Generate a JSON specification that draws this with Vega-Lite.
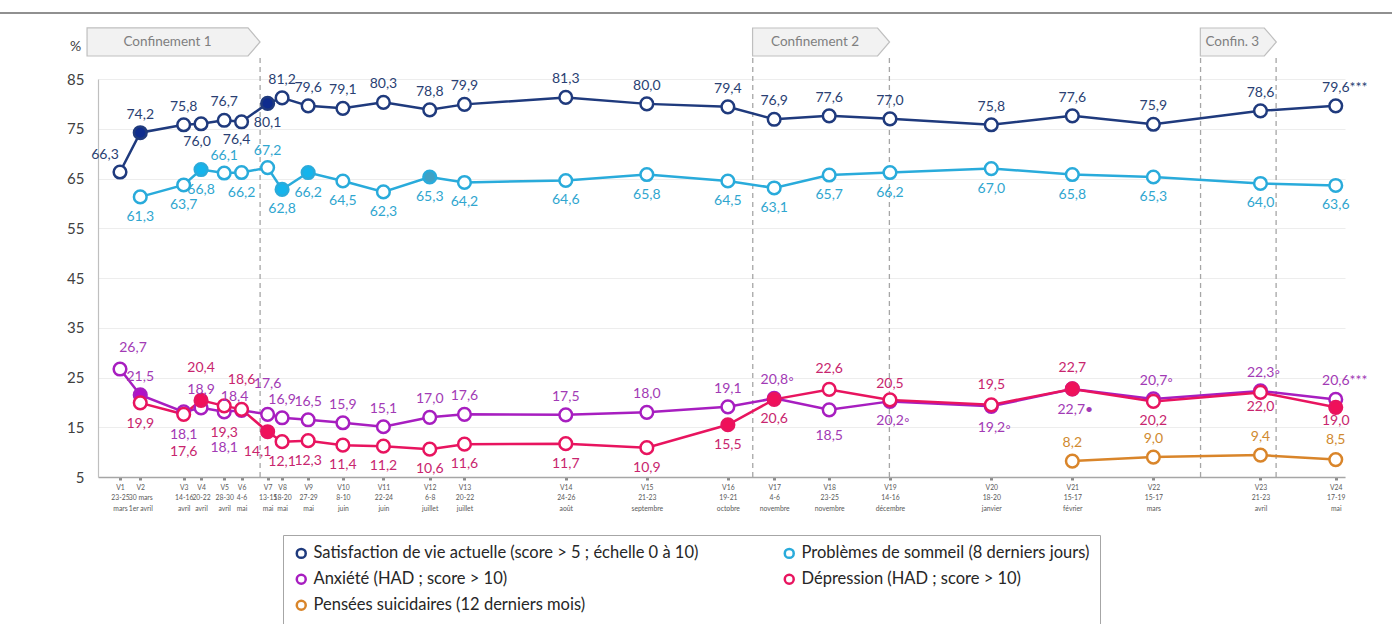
{
  "$schema": "https://vega.github.io/schema/vega-lite/v6.json",
  "width": 1247,
  "height": 398,
  "autosize": {"type": "none"},
  "padding": {"left": 98, "top": 79, "right": 47, "bottom": 147},
  "background": "white",
  "config": {
    "view": {"stroke": null},
    "font": "Lato",
    "text": {"font": "Lato"}
  },
  "datasets": {
    "obs": [
      {"w":"V1","d":0,"s":"sat","v":66.3},
      {"w":"V2","d":7,"s":"sat","v":74.2,"f":1},
      {"w":"V3","d":22,"s":"sat","v":75.8},
      {"w":"V4","d":28,"s":"sat","v":76.0},
      {"w":"V5","d":36,"s":"sat","v":76.7},
      {"w":"V6","d":42,"s":"sat","v":76.4},
      {"w":"V7","d":51,"s":"sat","v":80.1,"f":1},
      {"w":"V8","d":56,"s":"sat","v":81.2},
      {"w":"V9","d":65,"s":"sat","v":79.6},
      {"w":"V10","d":77,"s":"sat","v":79.1},
      {"w":"V11","d":91,"s":"sat","v":80.3},
      {"w":"V12","d":107,"s":"sat","v":78.8},
      {"w":"V13","d":119,"s":"sat","v":79.9},
      {"w":"V14","d":154,"s":"sat","v":81.3},
      {"w":"V15","d":182,"s":"sat","v":80.0},
      {"w":"V16","d":210,"s":"sat","v":79.4},
      {"w":"V17","d":226,"s":"sat","v":76.9},
      {"w":"V18","d":245,"s":"sat","v":77.6},
      {"w":"V19","d":266,"s":"sat","v":77.0},
      {"w":"V20","d":301,"s":"sat","v":75.8},
      {"w":"V21","d":329,"s":"sat","v":77.6},
      {"w":"V22","d":357,"s":"sat","v":75.9},
      {"w":"V23","d":394,"s":"sat","v":78.6},
      {"w":"V24","d":420,"s":"sat","v":79.6,"n":"***"},
      {"w":"V2","d":7,"s":"slp","v":61.3},
      {"w":"V3","d":22,"s":"slp","v":63.7},
      {"w":"V4","d":28,"s":"slp","v":66.8,"f":1},
      {"w":"V5","d":36,"s":"slp","v":66.1},
      {"w":"V6","d":42,"s":"slp","v":66.2},
      {"w":"V7","d":51,"s":"slp","v":67.2},
      {"w":"V8","d":56,"s":"slp","v":62.8,"f":1},
      {"w":"V9","d":65,"s":"slp","v":66.2,"f":1},
      {"w":"V10","d":77,"s":"slp","v":64.5},
      {"w":"V11","d":91,"s":"slp","v":62.3},
      {"w":"V12","d":107,"s":"slp","v":65.3,"f":2},
      {"w":"V13","d":119,"s":"slp","v":64.2},
      {"w":"V14","d":154,"s":"slp","v":64.6},
      {"w":"V15","d":182,"s":"slp","v":65.8},
      {"w":"V16","d":210,"s":"slp","v":64.5},
      {"w":"V17","d":226,"s":"slp","v":63.1},
      {"w":"V18","d":245,"s":"slp","v":65.7},
      {"w":"V19","d":266,"s":"slp","v":66.2},
      {"w":"V20","d":301,"s":"slp","v":67.0},
      {"w":"V21","d":329,"s":"slp","v":65.8},
      {"w":"V22","d":357,"s":"slp","v":65.3},
      {"w":"V23","d":394,"s":"slp","v":64.0},
      {"w":"V24","d":420,"s":"slp","v":63.6},
      {"w":"V1","d":0,"s":"anx","v":26.7},
      {"w":"V2","d":7,"s":"anx","v":21.5,"f":1},
      {"w":"V3","d":22,"s":"anx","v":18.1},
      {"w":"V4","d":28,"s":"anx","v":18.9},
      {"w":"V5","d":36,"s":"anx","v":18.1},
      {"w":"V6","d":42,"s":"anx","v":18.4},
      {"w":"V7","d":51,"s":"anx","v":17.6},
      {"w":"V8","d":56,"s":"anx","v":16.9},
      {"w":"V9","d":65,"s":"anx","v":16.5},
      {"w":"V10","d":77,"s":"anx","v":15.9},
      {"w":"V11","d":91,"s":"anx","v":15.1},
      {"w":"V12","d":107,"s":"anx","v":17.0},
      {"w":"V13","d":119,"s":"anx","v":17.6},
      {"w":"V14","d":154,"s":"anx","v":17.5},
      {"w":"V15","d":182,"s":"anx","v":18.0},
      {"w":"V16","d":210,"s":"anx","v":19.1},
      {"w":"V17","d":226,"s":"anx","v":20.8,"n":"◦"},
      {"w":"V18","d":245,"s":"anx","v":18.5},
      {"w":"V19","d":266,"s":"anx","v":20.2,"n":"◦"},
      {"w":"V20","d":301,"s":"anx","v":19.2,"n":"◦"},
      {"w":"V21","d":329,"s":"anx","v":22.7,"n":"•"},
      {"w":"V22","d":357,"s":"anx","v":20.7,"n":"◦"},
      {"w":"V23","d":394,"s":"anx","v":22.3,"n":"◦"},
      {"w":"V24","d":420,"s":"anx","v":20.6,"n":"***"},
      {"w":"V2","d":7,"s":"dep","v":19.9},
      {"w":"V3","d":22,"s":"dep","v":17.6},
      {"w":"V4","d":28,"s":"dep","v":20.4,"f":1},
      {"w":"V5","d":36,"s":"dep","v":19.3},
      {"w":"V6","d":42,"s":"dep","v":18.6},
      {"w":"V7","d":51,"s":"dep","v":14.1,"f":1},
      {"w":"V8","d":56,"s":"dep","v":12.1},
      {"w":"V9","d":65,"s":"dep","v":12.3},
      {"w":"V10","d":77,"s":"dep","v":11.4},
      {"w":"V11","d":91,"s":"dep","v":11.2},
      {"w":"V12","d":107,"s":"dep","v":10.6},
      {"w":"V13","d":119,"s":"dep","v":11.6},
      {"w":"V14","d":154,"s":"dep","v":11.7},
      {"w":"V15","d":182,"s":"dep","v":10.9},
      {"w":"V16","d":210,"s":"dep","v":15.5,"f":1},
      {"w":"V17","d":226,"s":"dep","v":20.6,"f":1},
      {"w":"V18","d":245,"s":"dep","v":22.6},
      {"w":"V19","d":266,"s":"dep","v":20.5},
      {"w":"V20","d":301,"s":"dep","v":19.5},
      {"w":"V21","d":329,"s":"dep","v":22.7,"f":1},
      {"w":"V22","d":357,"s":"dep","v":20.2},
      {"w":"V23","d":394,"s":"dep","v":22.0},
      {"w":"V24","d":420,"s":"dep","v":19.0,"f":1},
      {"w":"V21","d":329,"s":"sui","v":8.2},
      {"w":"V22","d":357,"s":"sui","v":9.0},
      {"w":"V23","d":394,"s":"sui","v":9.4},
      {"w":"V24","d":420,"s":"sui","v":8.5}
    ],
    "periods": [
      {"label":"Confinement 1","start":-11.4,"end":48.4},
      {"label":"Confinement 2","start":218.6,"end":265.8},
      {"label":"Confin. 3","start":373.3,"end":399.4}
    ],
    "frame": [{"x1": -41.5, "x2": 439.5, "y": 98.27}]
  },
  "layer": [
    {
      "data": {"name": "frame"},
      "mark": {"type": "rule", "stroke": "#222222", "strokeWidth": 1.2},
      "encoding": {
        "x": {"field": "x1", "type": "quantitative"},
        "x2": {"field": "x2"},
        "y": {"field": "y", "type": "quantitative"}
      }
    },
    {
      "data": {"name": "periods"},
      "mark": {"type": "rule", "stroke": "#A6A6A6", "strokeWidth": 1.3, "strokeDash": [5, 4]},
      "encoding": {
        "x": {"field": "end", "type": "quantitative"},
        "y": {"datum": 5, "type": "quantitative"},
        "y2": {"datum": 89.6}
      }
    },
    {
      "data": {"name": "periods"},
      "transform": [{"filter": "datum.start > 0"}],
      "mark": {"type": "rule", "stroke": "#A6A6A6", "strokeWidth": 1.3, "strokeDash": [5, 4]},
      "encoding": {
        "x": {"field": "start", "type": "quantitative"},
        "y": {"datum": 5, "type": "quantitative"},
        "y2": {"datum": 89.6}
      }
    },
    {
      "data": {"name": "periods"},
      "transform": [{"filter": "datum.label == 'Confinement 1'"}, {"calculate": "(datum.start + datum.end) / 2", "as": "cx"}],
      "mark": {"type": "point", "filled": true, "fill": "#F2F2F2", "stroke": "#BFBFBF", "strokeWidth": 1.2, "opacity": 1, "size": 29929,
        "shape": "M-1,-0.162L0.861,-0.162L1,0L0.861,0.162L-1,0.162Z"},
      "encoding": {
        "x": {"field": "cx", "type": "quantitative"},
        "y": {"datum": 92.44, "type": "quantitative"}
      }
    },
    {
      "data": {"name": "periods"},
      "transform": [{"filter": "datum.label == 'Confinement 2'"}, {"calculate": "(datum.start + datum.end) / 2", "as": "cx"}],
      "mark": {"type": "point", "filled": true, "fill": "#F2F2F2", "stroke": "#BFBFBF", "strokeWidth": 1.2, "opacity": 1, "size": 18769,
        "shape": "M-1,-0.2044L0.8248,-0.2044L1,0L0.8248,0.2044L-1,0.2044Z"},
      "encoding": {
        "x": {"field": "cx", "type": "quantitative"},
        "y": {"datum": 92.44, "type": "quantitative"}
      }
    },
    {
      "data": {"name": "periods"},
      "transform": [{"filter": "datum.label == 'Confin. 3'"}, {"calculate": "(datum.start + datum.end) / 2", "as": "cx"}],
      "mark": {"type": "point", "filled": true, "fill": "#F2F2F2", "stroke": "#BFBFBF", "strokeWidth": 1.2, "opacity": 1, "size": 5776,
        "shape": "M-1,-0.3684L0.684,-0.3684L1,0L0.684,0.3684L-1,0.3684Z"},
      "encoding": {
        "x": {"field": "cx", "type": "quantitative"},
        "y": {"datum": 92.44, "type": "quantitative"}
      }
    },
    {
      "data": {"name": "periods"},
      "transform": [{"calculate": "(datum.start + datum.end) / 2", "as": "cx"}],
      "mark": {"type": "text", "dx": -6, "fontSize": 13.5, "fill": "#7F7F7F", "baseline": "middle", "align": "center"},
      "encoding": {
        "x": {"field": "cx", "type": "quantitative"},
        "y": {"datum": 92.44, "type": "quantitative"},
        "text": {"field": "label"}
      }
    },
    {
      "data": {"name": "obs"},
      "mark": {"type": "line", "strokeWidth": 2.5},
      "encoding": {
        "x": {
          "field": "d", "type": "quantitative",
          "scale": {"domain": [-7.6, 423.2], "nice": false, "zero": false},
          "axis": {
            "title": null, "grid": false,
            "values": [0,7,22,28,36,42,51,56,65,77,91,107,119,154,182,210,226,245,266,301,329,357,394,420],
            "labelExpr": "[['V1','23-25','mars'],['V2','30 mars','1er avril'],['V3','14-16','avril'],['V4','20-22','avril'],['V5','28-30','avril'],['V6','4-6','mai'],['V7','13-15','mai'],['V8','18-20','mai'],['V9','27-29','mai'],['V10','8-10','juin'],['V11','22-24','juin'],['V12','6-8','juillet'],['V13','20-22','juillet'],['V14','24-26','août'],['V15','21-23','septembre'],['V16','19-21','octobre'],['V17','4-6','novembre'],['V18','23-25','novembre'],['V19','14-16','décembre'],['V20','18-20','janvier'],['V21','15-17','février'],['V22','15-17','mars'],['V23','21-23','avril'],['V24','17-19','mai']][indexof([0,7,22,28,36,42,51,56,65,77,91,107,119,154,182,210,226,245,266,301,329,357,394,420], datum.value)]",
            "labelFont": "'Liberation Sans Narrow', Lato",
            "labelFontSize": 6.8, "labelColor": "#595959", "labelLineHeight": 10.5,
            "labelPadding": 4, "labelOverlap": false, "labelFlush": false, "labelBound": false,
            "domainColor": "#A6A6A6", "domainWidth": 1.5,
            "tickColor": "#8C8C8C", "tickSize": 3, "tickWidth": 3
          }
        },
        "y": {
          "field": "v", "type": "quantitative",
          "scale": {"domain": [5, 85], "nice": false, "zero": false},
          "axis": {
            "values": [5,15,25,35,45,55,65,75,85],
            "title": "%", "titleAngle": 0, "titleX": -23, "titleY": -33, "titleAlign": "center", "titleBaseline": "middle",
            "titleFontSize": 14, "titleFontWeight": "normal", "titleColor": "#404040",
            "grid": true, "gridColor": "#EDEDED", "gridWidth": 1,
            "domainColor": "#BFBFBF", "domainWidth": 1.2, "ticks": false,
            "labelFontSize": 15, "labelColor": "#404040", "labelPadding": 14
          }
        },
        "stroke": {
          "field": "s", "type": "nominal",
          "scale": {"domain": ["sat","anx","sui","slp","dep"], "range": ["#1F3A7D","#A71EC0","#D9852A","#29ABDB","#E8145F"]},
          "legend": {
            "orient": "none", "legendX": 185, "legendY": 456, "columns": 2, "title": null,
            "labelExpr": "['Satisfaction de vie actuelle (score > 5 ; échelle 0 à 10)','Problèmes de sommeil (8 derniers jours)','Anxiété (HAD ; score > 10)','Dépression (HAD ; score > 10)','Pensées suicidaires (12 derniers mois)'][indexof(['sat','slp','anx','dep','sui'], datum.value)]",
            "labelFontSize": 16.5, "labelColor": "#262626", "labelLimit": 600,
            "symbolType": "circle", "symbolSize": 80, "symbolStrokeWidth": 2.5, "symbolFillColor": "#FFFFFF",
            "strokeColor": "#A6A6A6", "fillColor": "#FFFFFF", "padding": 10,
            "columnPadding": 80, "rowPadding": 6,
            "encode": {"symbols": {"update": {"fill": {"value": "#FFFFFF"}}}}
          }
        }
      }
    },
    {
      "data": {"name": "obs"},
      "transform": [{"calculate": "datum.f == 1 ? datum.s : (datum.f == 2 ? 'alt' : 'none')", "as": "fk"}],
      "mark": {"type": "point", "filled": true, "size": 160, "strokeWidth": 2.5, "opacity": 1},
      "encoding": {
        "x": {"field": "d", "type": "quantitative"},
        "y": {"field": "v", "type": "quantitative"},
        "stroke": {"field": "s", "type": "nominal"},
        "fill": {
          "field": "fk", "type": "nominal", "legend": null,
          "scale": {"domain": ["sat","slp","anx","dep","sui","alt","none"], "range": ["#0E2C8E","#14B4EC","#B010C8","#F0105A","#D9852A","#3FA1C5","#FFFFFF"]}
        }
      }
    },
    {
      "data": {"name": "obs"},
      "transform": [
        {"calculate": "datum.s + datum.w", "as": "key"},
        {"calculate": "indexof(['satV1','satV4','satV6','satV7','slpV5','slpV7','anxV1','anxV3','anxV4','anxV5','anxV6','anxV7','anxV18','anxV19','anxV20','anxV21','depV2','depV3','depV4','depV5','depV6','depV7','depV18','depV19','depV20','depV21','depV23','depV24','suiV24'], datum.key)", "as": "oi"},
        {"calculate": "datum.oi >= 0 ? [-17,18,18,20,-17,-17,-21,23,-18,36,-13,-30,26,20,22,21,21,38,-32,27,-29,20,-20,-16,-20,-21,15,14,-20][datum.oi] : ((datum.s == 'slp' || datum.s == 'dep') ? 20 : -18)", "as": "off"},
        {"calculate": "indexof(['satV1','anxV1','anxV6','depV7','satV4','satV6'], datum.key)", "as": "xi"},
        {"calculate": "(datum.xi >= 0 ? [-15,13,-7,-10,-4,-5][datum.xi] : 0) + (datum.n == '***' ? 9 : (datum.n ? 3 : 0))", "as": "dxp"},
        {"calculate": "datum.v - datum.off / 4.975", "as": "ly"},
        {"calculate": "datum.d + datum.dxp / 2.8945", "as": "lx"},
        {"calculate": "replace(format(datum.v, '.1f'), '.', ',') + (datum.n ? datum.n : '')", "as": "lab"}
      ],
      "mark": {"type": "text", "fontSize": 14, "baseline": "middle", "align": "center"},
      "encoding": {
        "x": {"field": "lx", "type": "quantitative"},
        "y": {"field": "ly", "type": "quantitative"},
        "text": {"field": "lab"},
        "color": {
          "field": "s", "type": "nominal", "legend": null,
          "scale": {"domain": ["sat","slp","anx","dep","sui"], "range": ["#2A3F73","#30A6CF","#A23AB5","#C8256E","#D08A30"]}
        }
      }
    }
  ]
}
